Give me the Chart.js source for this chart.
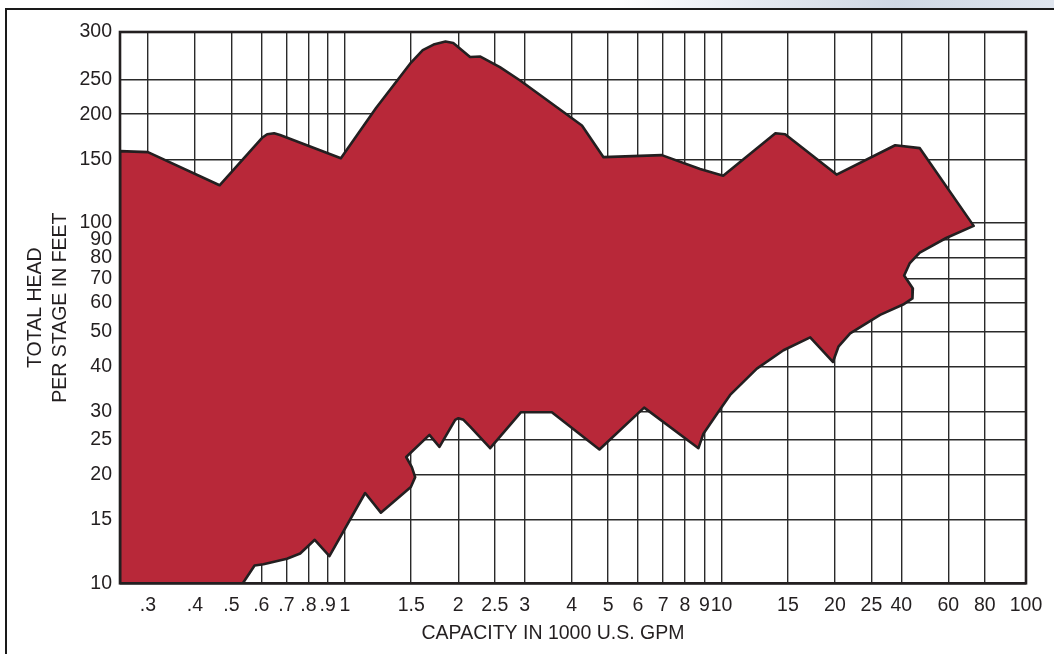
<!DOCTYPE html>
<html>
<head>
<meta charset="utf-8">
<title>Capacity vs head per stage</title>
<script src="https://cdn.jsdelivr.net/npm/chart.js@4.4.1/dist/chart.umd.min.js"></script>
<style>
  html, body { margin: 0; padding: 0; background: #fff; }
  #wrap { position: relative; width: 1054px; height: 654px; overflow: hidden; }
  #topstrip {
    position: absolute; left: 0; top: 0; width: 1054px; height: 8px;
    background: linear-gradient(90deg, #fff 0%, #fff 58%, #e4e9f0 72%, #cfd8e4 85%, #dfe5ee 100%);
  }
  #frame {
    position: absolute; left: 5px; top: 8px; width: 1060px; height: 660px;
    border-left: 2.5px solid #1a1a1a; border-top: 2.5px solid #1a1a1a;
    box-sizing: border-box;
  }
  #chartBox { position: absolute; left: 0; top: 0; width: 1054px; height: 654px; }
</style>
</head>
<body>
<div id="wrap">
  <div id="topstrip"></div>
  <div id="frame"></div>
  <div id="chartBox"><canvas id="grafica"></canvas></div>
</div>
<script>
// Ejes (valores en la escala, etiquetas tal como aparecen impresas)
const xTickValues = [0.3, 0.4, 0.5, 0.6, 0.7, 0.8, 0.9, 1, 1.5, 2, 2.5, 3, 4, 5, 6, 7, 8, 9, 10, 15, 20, 25, 30, 40, 50, 64.3];
const xTickLabels = ['.3', '.4', '.5', '.6', '.7', '.8', '.9', '1', '1.5', '2', '2.5', '3', '4', '5', '6', '7', '8', '9', '10', '15', '20', '25', '40', '60', '80', '100'];
const yTickValues = [10, 15, 20, 25, 30, 40, 50, 60, 70, 80, 90, 100, 150, 200, 250, 338];
const yTickLabels = ['10', '15', '20', '25', '30', '40', '50', '60', '70', '80', '90', '100', '150', '200', '250', '300'];

// Borde superior de la zona (izquierda a derecha)
const capacityTop = [0.253, 0.30, 0.465, 0.603, 0.622, 0.649, 0.673, 0.976, 1.21, 1.49, 1.61, 1.72, 1.85, 1.94, 2.15, 2.29, 2.58, 2.92, 4.26, 4.86, 6.94, 8.77, 10.1, 13.9, 14.75, 20.2, 28.9, 33.6, 46.7];
const headTop = [158, 157, 127, 172, 176, 177, 175, 151, 208, 276, 301, 312, 318, 315, 288, 289, 270, 248, 186, 152, 154, 141, 135, 177, 176, 136, 164, 161, 98];

// Borde inferior de la zona (izquierda a derecha)
const capacityBottom = [0.253, 0.536, 0.576, 0.608, 0.702, 0.761, 0.832, 0.910, 1.132, 1.246, 1.497, 1.537, 1.506, 1.455, 1.677, 1.783, 1.963, 2.002, 2.065, 2.151, 2.431, 2.932, 3.544, 4.741, 6.231, 8.683, 8.951, 9.812, 10.54, 12.41, 14.60, 17.19, 19.75, 20.43, 21.95, 26.36, 30.34, 32.12, 32.20, 30.53, 31.61, 33.59, 39.47, 46.7];
const headBottom = [10, 10, 11.2, 11.3, 11.7, 12.1, 13.2, 11.9, 17.8, 15.7, 18.5, 19.7, 21.0, 22.4, 25.8, 23.9, 28.4, 28.7, 28.4, 27.2, 23.7, 29.8, 29.8, 23.5, 30.7, 23.7, 26.0, 29.9, 33.3, 39.4, 44.3, 48.1, 41.1, 45.3, 49.3, 55.5, 59.3, 61.7, 65.7, 71.4, 77.3, 82.6, 90.7, 98];

const inkColor = '#231f20';
const fontFamily = "'Liberation Sans', Arial, Helvetica, sans-serif";

// contorno cerrado: arriba de izquierda a derecha, abajo de vuelta
const shape = [];
for (let i = 0; i < capacityTop.length; i++) {
  shape.push({ x: capacityTop[i], y: headTop[i] });
}
for (let i = capacityBottom.length - 2; i >= 0; i--) {
  shape.push({ x: capacityBottom[i], y: headBottom[i] });
}
shape.push({ x: capacityTop[0], y: headTop[0] });

// marco de la gráfica y título del eje X
const marcoPlugin = {
  id: 'marco',
  afterDraw(chart) {
    const ctx = chart.ctx;
    const a = chart.chartArea;
    ctx.save();
    ctx.strokeStyle = inkColor;
    ctx.lineWidth = 2.6;
    ctx.strokeRect(a.left, a.top, a.right - a.left, a.bottom - a.top);
    ctx.fillStyle = inkColor;
    ctx.font = '19.5px ' + fontFamily;
    ctx.textAlign = 'center';
    ctx.textBaseline = 'middle';
    ctx.fillText('CAPACITY IN 1000 U.S. GPM', 553, 634);
    ctx.restore();
  }
};

Chart.defaults.font.family = fontFamily;
Chart.defaults.color = inkColor;

const ctx = document.getElementById('grafica').getContext('2d');
const grafica = new Chart(ctx, {
  type: 'line',
  data: {
    datasets: [{
      label: 'Rango',
      data: shape,
      backgroundColor: 'rgb(184, 40, 57)',
      borderColor: inkColor,
      borderWidth: 2.6,
      borderJoinStyle: 'round',
      pointRadius: 0,
      tension: 0,
      fill: 'shape'
    }]
  },
  options: {
    responsive: true,
    maintainAspectRatio: false,
    animation: false,
    events: [],
    layout: { padding: { left: 0, top: 32, right: 28, bottom: 0 } },
    plugins: {
      legend: { display: false },
      tooltip: { enabled: false }
    },
    scales: {
      x: {
        type: 'logarithmic',
        min: 0.253,
        max: 64.3,
        afterBuildTicks: function (scale) {
          scale.ticks = xTickValues.map(v => ({ value: v }));
        },
        afterFit: function (scale) { scale.height = 70.7; },
        grid: { color: '#2a2a2a', lineWidth: 1.4, drawTicks: false },
        border: { display: false },
        ticks: {
          autoSkip: false,
          maxRotation: 0,
          padding: 11,
          color: inkColor,
          font: { size: 19.5 },
          callback: function (value, index) { return xTickLabels[index]; }
        }
      },
      y: {
        type: 'logarithmic',
        min: 10,
        max: 338,
        afterBuildTicks: function (scale) {
          scale.ticks = yTickValues.map(v => ({ value: v }));
        },
        afterFit: function (scale) { scale.width = 120; },
        grid: { color: '#2a2a2a', lineWidth: 1.4, drawTicks: false },
        border: { display: false },
        ticks: {
          autoSkip: false,
          padding: 8,
          color: inkColor,
          font: { size: 19.5 },
          callback: function (value, index) { return yTickLabels[index]; }
        },
        title: {
          display: true,
          text: ['TOTAL HEAD', 'PER STAGE IN FEET'],
          color: inkColor,
          font: { size: 19.5, lineHeight: 1.27 },
          padding: { top: 23, bottom: 0 }
        }
      }
    }
  },
  plugins: [marcoPlugin]
});
</script>
</body>
</html>
